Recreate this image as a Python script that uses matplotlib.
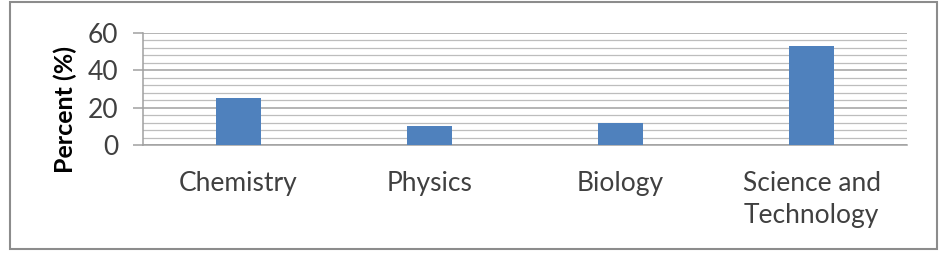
import matplotlib
matplotlib.use("Agg")
import matplotlib.pyplot as plt
from matplotlib.patches import Rectangle
from matplotlib.ticker import MultipleLocator

categories = ["Chemistry", "Physics", "Biology", "Science and\nTechnology"]
values = [25, 10, 12, 53]
yticks = [0, 20, 40, 60]

W, H = 946, 254
fig = plt.figure(figsize=(W / 100, H / 100), dpi=100)
fig.patch.set_facecolor("white")

# outer border
fig.patches.append(Rectangle((10 / W, 1 - 249 / H), 927 / W, 247 / H,
                             transform=fig.transFigure, fill=False,
                             edgecolor="#8c8c8c", linewidth=1.5))

ax = fig.add_axes([143 / W, 1 - 145 / H, 764 / W, 112 / H])
x = list(range(len(categories)))
ax.bar(x, values, width=0.24, color="#4F81BD", zorder=3)
ax.set_xlim(-0.5, len(categories) - 0.5)
ax.set_ylim(0, 60)
ax.set_yticks(yticks)
ax.yaxis.set_minor_locator(MultipleLocator(4))
ax.grid(axis="y", which="major", color="#a0a0a0", linewidth=1.1, zorder=0)
ax.grid(axis="y", which="minor", color="#bdbdbd", linewidth=0.9, zorder=0)
ax.set_axisbelow(True)
for s in ["top", "right"]:
    ax.spines[s].set_visible(False)
ax.spines["left"].set_color("#a0a0a0")
ax.spines["bottom"].set_color("#a0a0a0")
ax.spines["left"].set_linewidth(1.1)
ax.spines["bottom"].set_linewidth(1.1)
ax.tick_params(axis="y", which="major", length=7, color="#a0a0a0", width=1.1,
               labelsize=19, labelcolor="#404040", pad=11)
ax.tick_params(axis="y", which="minor", length=0)
ax.tick_params(axis="x", length=0, pad=19, labelsize=19, labelcolor="#404040")
ax.set_xticks(x)
ax.set_xticklabels(categories, fontfamily="Lato", linespacing=1.35)
for lab in ax.get_yticklabels():
    lab.set_fontfamily("Lato")
ax.set_ylabel("Percent (%)", fontfamily="Lato", fontweight="bold",
              fontsize=18, color="#000000")
ax.yaxis.set_label_coords(-0.086, 0.32)

fig.savefig("out.png", dpi=100)
